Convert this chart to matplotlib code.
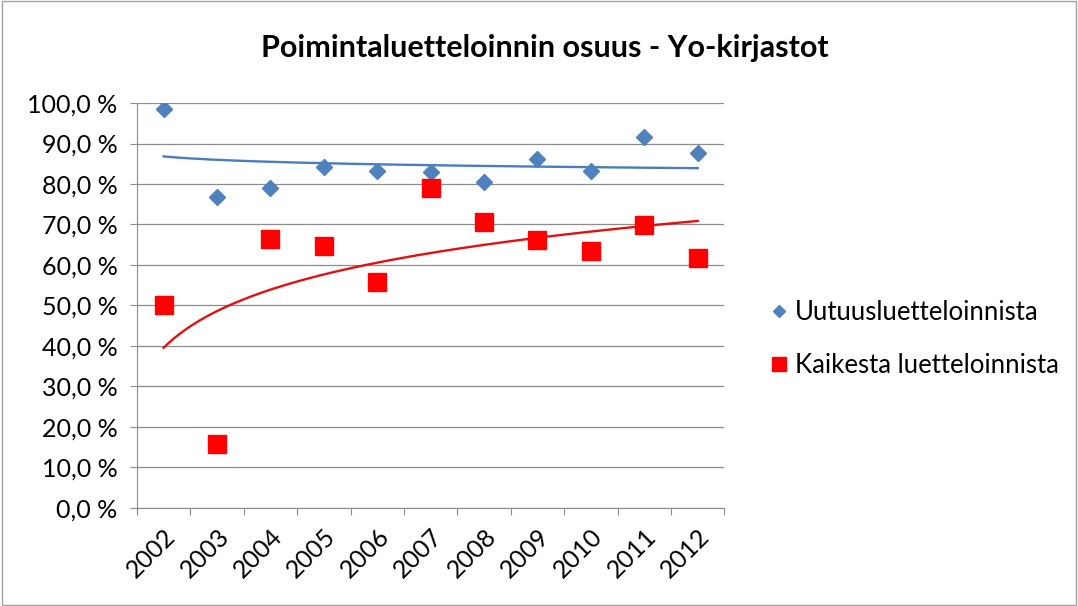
import numpy as np
import matplotlib
matplotlib.use("Agg")
import matplotlib.pyplot as plt
from matplotlib.ticker import FixedLocator, FuncFormatter, NullFormatter
from matplotlib.patches import Rectangle

years = ["2002", "2003", "2004", "2005", "2006", "2007", "2008", "2009", "2010", "2011", "2012"]
uutuus = [98.4, 76.9, 79.0, 84.3, 83.1, 82.9, 80.6, 86.1, 83.1, 91.7, 87.6]
kaikki = [50.0, 15.8, 66.4, 64.8, 55.7, 79.0, 70.7, 66.1, 63.5, 69.8, 61.8]
title = "Poimintaluetteloinnin osuus - Yo-kirjastot"

plt.rcParams['font.family'] = ['Lato', 'DejaVu Sans']

fig = plt.figure(figsize=(10.78, 6.06), dpi=100)
fig.patches.append(Rectangle((0.002, 0.002), 0.996, 0.996, transform=fig.transFigure,
                             fill=False, edgecolor='#a0a0a0', linewidth=1))
ax = fig.add_axes([0.127, 0.162, 0.545, 0.668])

n = len(years)
x = np.arange(n) + 0.5

# logarithmic trendlines like Excel, fitted on x = 1..n
def log_trend(vals):
    k = np.arange(1, n + 1)
    b, a = np.polyfit(np.log(k), vals, 1)
    kk = np.linspace(1, n, 200)
    return kk - 0.5, a + b * np.log(kk)

tx, ty = log_trend(uutuus)
ax.plot(tx, ty, color='#4a7ebb', linewidth=1.7, zorder=2)
tx, ty = log_trend(kaikki)
ax.plot(tx, ty, color='#e31010', linewidth=1.7, zorder=2)

ax.plot(x, uutuus, linestyle='none', marker='D', markersize=8.5,
        color='#4f81bd', label='Uutuusluetteloinnista', zorder=3)
ax.plot(x, kaikki, linestyle='none', marker='s', markersize=12.5,
        color='#ff0000', label='Kaikesta luetteloinnista', zorder=3)

ax.set_xlim(0, n)
ax.set_ylim(0, 100)
ax.yaxis.set_major_locator(FixedLocator(np.arange(0, 101, 10)))
ax.yaxis.set_major_formatter(FuncFormatter(lambda v, p: f"{v:.1f}".replace('.', ',') + " %"))
ax.grid(axis='y', color='#8c8c8c', linewidth=0.9)
ax.set_axisbelow(True)

ax.xaxis.set_major_locator(FixedLocator(np.arange(0, n + 1)))
ax.xaxis.set_major_formatter(NullFormatter())
ax.xaxis.set_minor_locator(FixedLocator(x))
ax.set_xticklabels(years, minor=True, rotation=45, ha='right', va='top',
                   rotation_mode='anchor')
ax.tick_params(axis='x', which='minor', length=0, pad=12, labelsize=18)
ax.tick_params(axis='x', which='major', length=5, color='#8c8c8c')
ax.tick_params(axis='y', length=5, color='#8c8c8c', labelsize=18, pad=9)

for s in ['top', 'right']:
    ax.spines[s].set_visible(False)
for s in ['left', 'bottom']:
    ax.spines[s].set_color('#8c8c8c')

fig.text(0.505, 0.921, title, ha='center', va='center', fontsize=22, fontweight='bold')

fig.legend(loc='center left', bbox_to_anchor=(0.69, 0.44), frameon=False,
           fontsize=18.5, labelspacing=1.1, handletextpad=0.2, handlelength=0.9,
           markerscale=0.75)

fig.savefig("out.png", dpi=100)
